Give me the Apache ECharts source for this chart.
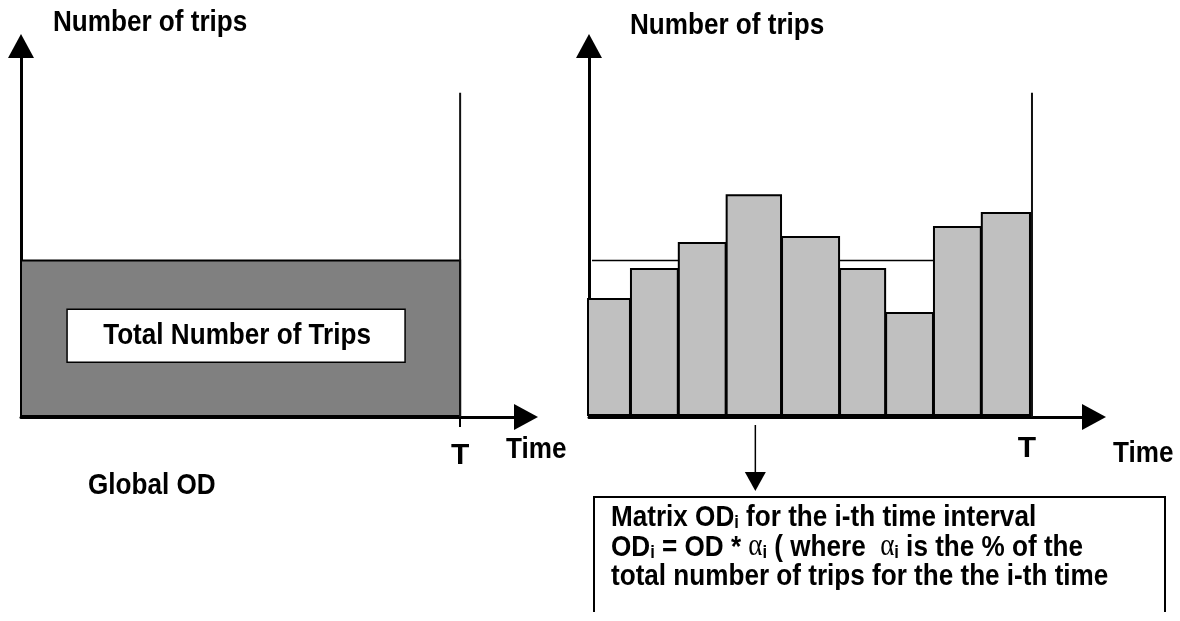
<!DOCTYPE html>
<html>
<head>
<meta charset="utf-8">
<script src="https://cdn.jsdelivr.net/npm/echarts@6/dist/echarts.min.js"></script>
<style>
  html, body { margin: 0; padding: 0; background: #fff; }
  #chart { width: 1180px; height: 621px; }
</style>
</head>
<body>
<div id="chart"></div>
<script>
// ---- data ----
const intervalEdges = [0, 9.7, 20.5, 31.3, 43.8, 56.9, 67.3, 78.1, 88.9, 100];
const intervalTrips = [31.8, 39.9, 46.9, 59.8, 48.5, 39.9, 28.0, 51.2, 55.0];
const averageTrips = 42.2;
const periodEnd = 100;          // T
const markerHeight = 87.4;      // height of the vertical line at T
const highlightedInterval = 3;  // the i-th interval pointed at
const periodLabel = 'T';
const yTitle = 'Number of trips';
const xTitle = 'Time';
const leftCaption = 'Global OD';
const blockLabel = 'Total Number of Trips';

// Arial-Narrow look: Liberation Sans (Arial metrics) compressed horizontally
const FONT = "'Liberation Sans', Arial, sans-serif";
const FS = 30;
const NARROW = 0.87;

const chart = echarts.init(document.getElementById('chart'), null, { renderer: 'canvas' });

function axisLineStyle() {
  return {
    show: true,
    symbol: ['none', 'triangle'],
    symbolSize: [26, 24],
    lineStyle: { color: '#000', width: 3 }
  };
}

function xAxisDef(gridIndex, max, margin, tickShow, pad) {
  return {
    type: 'value', gridIndex, min: 0, max,
    axisLine: axisLineStyle(),
    splitLine: { show: false },
    axisTick: { show: tickShow, customValues: [periodEnd], length: 10, lineStyle: { color: '#000', width: 2 } },
    axisLabel: {
      show: true, customValues: [periodEnd], formatter: () => periodLabel,
      margin, padding: pad, fontFamily: FONT, fontWeight: 'bold', fontSize: FS, color: '#000'
    }
  };
}
function yAxisDef(gridIndex) {
  return {
    type: 'value', gridIndex, min: 0, max: 100,
    axisLine: axisLineStyle(),
    splitLine: { show: false },
    axisTick: { show: false },
    axisLabel: { show: false }
  };
}

function narrowText(text, x, y, extra) {
  return {
    type: 'text', x, y, scaleX: NARROW, z: 20,
    style: Object.assign({
      text, fontFamily: FONT, fontWeight: 'bold', fontSize: FS, lineHeight: FS,
      fill: '#000', align: 'left', verticalAlign: 'top'
    }, extra || {})
  };
}

const blockData = [[0, periodEnd, averageTrips]];
const markerData = [[periodEnd, markerHeight]];
const barData = intervalTrips.map((v, i) => [intervalEdges[i], intervalEdges[i + 1], v]);

function markerRender(params, api) {
  const top = api.coord([api.value(0), api.value(1)]);
  const bot = api.coord([api.value(0), 0]);
  return { type: 'line', shape: { x1: top[0], y1: top[1], x2: bot[0], y2: bot[1] },
           style: { stroke: '#111', lineWidth: 2 } };
}

const option = {
  animation: false,
  backgroundColor: '#fff',
  grid: [
    { left: 21, top: 46, width: 505, height: 371 },
    { left: 589, top: 46, width: 505, height: 371 }
  ],
  xAxis: [
    xAxisDef(0, 115, 24, true, 0),
    xAxisDef(1, 114, 17, false, [0, 10, 0, 0])
  ],
  yAxis: [yAxisDef(0), yAxisDef(1)],
  series: [
    // Left: total number of trips over [0, T]
    {
      type: 'custom', xAxisIndex: 0, yAxisIndex: 0, clip: false,
      data: blockData,
      renderItem(params, api) {
        const p0 = api.coord([api.value(0), 0]);
        const p1 = api.coord([api.value(1), api.value(2)]);
        const cx = (p0[0] + p1[0]) / 2 - 4.5;
        const cy = (p0[1] + p1[1]) / 2 - 3;
        return {
          type: 'group',
          children: [
            { type: 'rect',
              shape: { x: p0[0], y: p1[1], width: p1[0] - p0[0], height: p0[1] - p1[1] - 1 },
              style: { fill: '#808080', stroke: '#000', lineWidth: 2 } },
            { type: 'rect',
              shape: { x: cx - 169, y: cy - 26.5, width: 338, height: 53 },
              style: { fill: '#fff', stroke: '#000', lineWidth: 1.5 } },
            { type: 'text', x: cx + 1, y: cy + 0.5, scaleX: NARROW,
              style: { text: blockLabel, fontFamily: FONT, fontWeight: 'bold', fontSize: FS,
                       fill: '#000', align: 'center', verticalAlign: 'middle' } }
          ]
        };
      }
    },
    {
      type: 'custom', xAxisIndex: 0, yAxisIndex: 0, clip: false,
      data: markerData, renderItem: markerRender
    },
    // Right: average level line (behind bars)
    {
      type: 'custom', xAxisIndex: 1, yAxisIndex: 1, clip: false,
      data: blockData,
      renderItem(params, api) {
        const a = api.coord([api.value(0), api.value(2)]);
        const b = api.coord([api.value(1), api.value(2)]);
        return { type: 'line', shape: { x1: a[0] + 3, y1: a[1], x2: b[0], y2: b[1] },
                 style: { stroke: '#000', lineWidth: 1.5 } };
      }
    },
    // Right: trips per time interval
    {
      type: 'custom', xAxisIndex: 1, yAxisIndex: 1, clip: false,
      data: barData,
      encode: { x: [0, 1], y: 2 },
      renderItem(params, api) {
        const p0 = api.coord([api.value(0), 0]);
        const p1 = api.coord([api.value(1), api.value(2)]);
        return {
          type: 'rect',
          shape: { x: p0[0] - 1, y: p1[1], width: p1[0] - p0[0] - 1, height: p0[1] - p1[1] - 2 },
          style: { fill: '#c0c0c0', stroke: '#000', lineWidth: 2 }
        };
      }
    },
    {
      type: 'custom', xAxisIndex: 1, yAxisIndex: 1, clip: false,
      data: markerData, renderItem: markerRender
    },
    // Arrow from the i-th interval down to the explanation box
    {
      type: 'custom', xAxisIndex: 1, yAxisIndex: 1, clip: false,
      data: [[(intervalEdges[highlightedInterval] + intervalEdges[highlightedInterval + 1]) / 2]],
      renderItem(params, api) {
        const p = api.coord([api.value(0), 0]);
        const x = p[0], y = p[1];
        return {
          type: 'group',
          children: [
            { type: 'line', shape: { x1: x, y1: y + 8, x2: x, y2: y + 56 }, style: { stroke: '#000', lineWidth: 1.5 } },
            { type: 'polygon', shape: { points: [[x - 10.5, y + 55], [x + 10.5, y + 55], [x, y + 74]] }, style: { fill: '#000' } }
          ]
        };
      }
    }
  ],
  graphic: [
    narrowText(yTitle, 53, 8),
    narrowText(yTitle, 630, 11),
    narrowText(xTitle, 506, 435),
    narrowText(xTitle, 1113, 439),
    narrowText(leftCaption, 88, 471),
    { type: 'rect', z: 10, shape: { x: 594, y: 497, width: 571, height: 140 },
      style: { fill: '#fff', stroke: '#000', lineWidth: 2 } },
    { type: 'text', z: 11, x: 611, y: 503, scaleX: NARROW,
      style: {
        text: 'Matrix OD{s|i} for the i-th time interval\n' +
              'OD{s|i} = OD * {a|α}{s|i} ( where  {a|α}{s|i} is the % of the\n' +
              'total number of trips for the the i-th time',
        fontFamily: FONT, fontWeight: 'bold', fontSize: FS, lineHeight: 29.5,
        fill: '#000', verticalAlign: 'top', align: 'left',
        rich: {
          s: { fontFamily: FONT, fontWeight: 'bold', fontSize: 19, lineHeight: 22, verticalAlign: 'bottom', fill: '#000' },
          a: { fontFamily: "'Liberation Serif', 'DejaVu Serif', serif", fontWeight: 'normal', fontSize: 31, lineHeight: 29.5, fill: '#000' }
        }
      } },
    { type: 'rect', z: 12, shape: { x: 596, y: 590, width: 567, height: 30 }, style: { fill: '#fff' } },
    { type: 'rect', z: 12, shape: { x: 0, y: 612, width: 1180, height: 10 }, style: { fill: '#fff' } }
  ]
};

chart.setOption(option);
</script>
</body>
</html>
